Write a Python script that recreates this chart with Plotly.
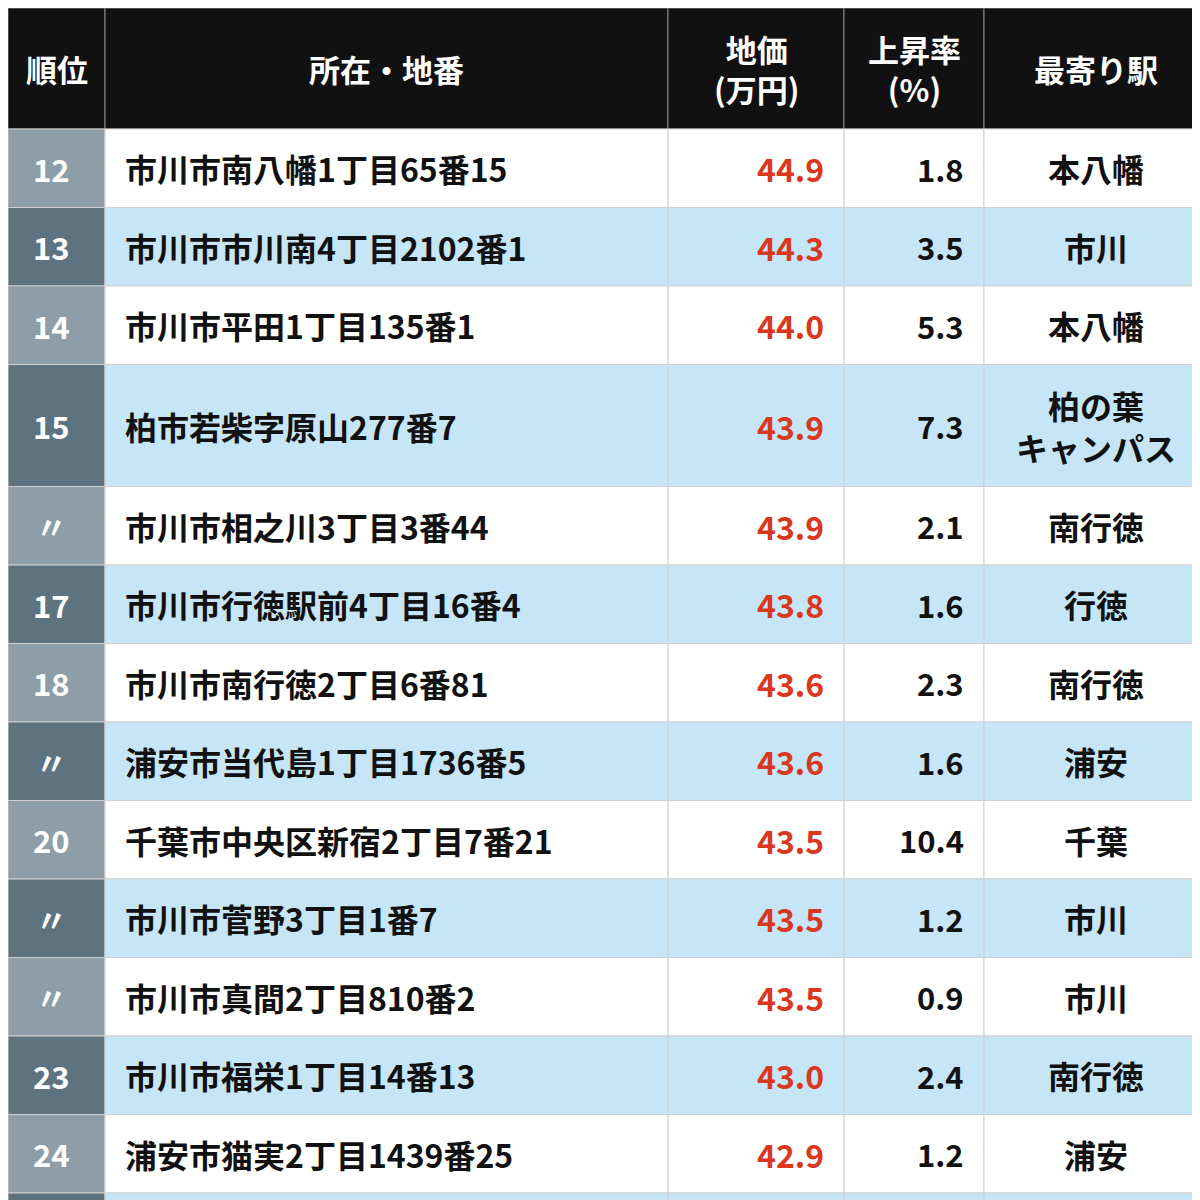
import plotly.graph_objects as go

# 順位・所在地・地価・上昇率・最寄り駅
ranks = ["12", "13", "14", "15", "〃", "17", "18", "〃", "20", "〃", "〃", "23", "24", ""]
addresses = [
    "市川市南八幡1丁目65番15", "市川市市川南4丁目2102番1", "市川市平田1丁目135番1",
    "柏市若柴字原山277番7", "市川市相之川3丁目3番44", "市川市行徳駅前4丁目16番4",
    "市川市南行徳2丁目6番81", "浦安市当代島1丁目1736番5", "千葉市中央区新宿2丁目7番21",
    "市川市菅野3丁目1番7", "市川市真間2丁目810番2", "市川市福栄1丁目14番13",
    "浦安市猫実2丁目1439番25", "",
]
prices = ["44.9", "44.3", "44.0", "43.9", "43.9", "43.8", "43.6", "43.6", "43.5",
          "43.5", "43.5", "43.0", "42.9", ""]
rates = ["1.8", "3.5", "5.3", "7.3", "2.1", "1.6", "2.3", "1.6", "10.4",
         "1.2", "0.9", "2.4", "1.2", ""]
stations = ["本八幡", "市川", "本八幡", "柏の葉<br>キャンパス", "南行徳", "行徳", "南行徳",
            "浦安", "千葉", "市川", "市川", "南行徳", "浦安", ""]
headers = ["順位", "所在・地番", "地価<br>(万円)", "上昇率<br>(%)", "最寄り駅"]

# レイアウト（ピクセル単位）
col_w = [97, 563, 176, 140, 224]
header_h = 121
row_h = [78.5, 78.5, 78.5, 122, 78.5, 78.5, 78.5, 78.5, 78.5, 78.5, 78.5, 78.5, 78.5, 78.5]
FONT = "Noto Sans CJK JP"

col_x = [0]
for w in col_w:
    col_x.append(col_x[-1] + w)
row_y = [header_h]
for h in row_h:
    row_y.append(row_y[-1] + h)

shapes, annos = [], []

def cell(x0, x1, y0, y1, fill, line):
    shapes.append(dict(type="rect", x0=x0, x1=x1, y0=y0, y1=y1, fillcolor=fill,
                       line=dict(color=line, width=1), layer="below"))

def text(x, y, s, anchor, color, size):
    annos.append(dict(x=x, y=y, text=f"<b>{s}</b>" if s else "", showarrow=False,
                      xanchor=anchor, yanchor="middle",
                      font=dict(family=FONT, size=size, color=color)))

# ヘッダー
for j, h in enumerate(headers):
    cell(col_x[j], col_x[j + 1], 0, header_h, "#111111", "#8a8a8a")
    text((col_x[j] + col_x[j + 1]) / 2, header_h / 2, h, "center", "white", 31)

# 本体
cols = [ranks, addresses, prices, rates, stations]
for i in range(len(ranks)):
    y0, y1 = row_y[i], row_y[i + 1]
    ym = (y0 + y1) / 2
    bg = "#ffffff" if i % 2 == 0 else "#c6e5f6"
    rbg = "#8e9ea8" if i % 2 == 0 else "#5e7380"
    for j in range(5):
        cell(col_x[j], col_x[j + 1], y0, y1, rbg if j == 0 else bg, "#d0d0d0")
    text(col_x[0] + col_w[0] / 2 - 5, ym, ranks[i], "center", "white", 31)
    text(col_x[1] + 18, ym, addresses[i], "left", "#111111", 32)
    text(col_x[3] - 18, ym, prices[i], "right", "#d9381e", 32)
    text(col_x[4] - 18, ym, rates[i], "right", "#111111", 31)
    text((col_x[4] + col_x[5]) / 2, ym, stations[i], "center", "#111111", 32)

fig = go.Figure()
fig.update_layout(
    width=1200, height=1200,
    margin=dict(l=0, r=0, t=0, b=0),
    paper_bgcolor="white", plot_bgcolor="white",
    xaxis=dict(range=[0, 1200], visible=False, fixedrange=True),
    yaxis=dict(range=[1200, 0], visible=False, fixedrange=True),
    shapes=shapes, annotations=annos, showlegend=False,
)

fig.write_html("out.html")
